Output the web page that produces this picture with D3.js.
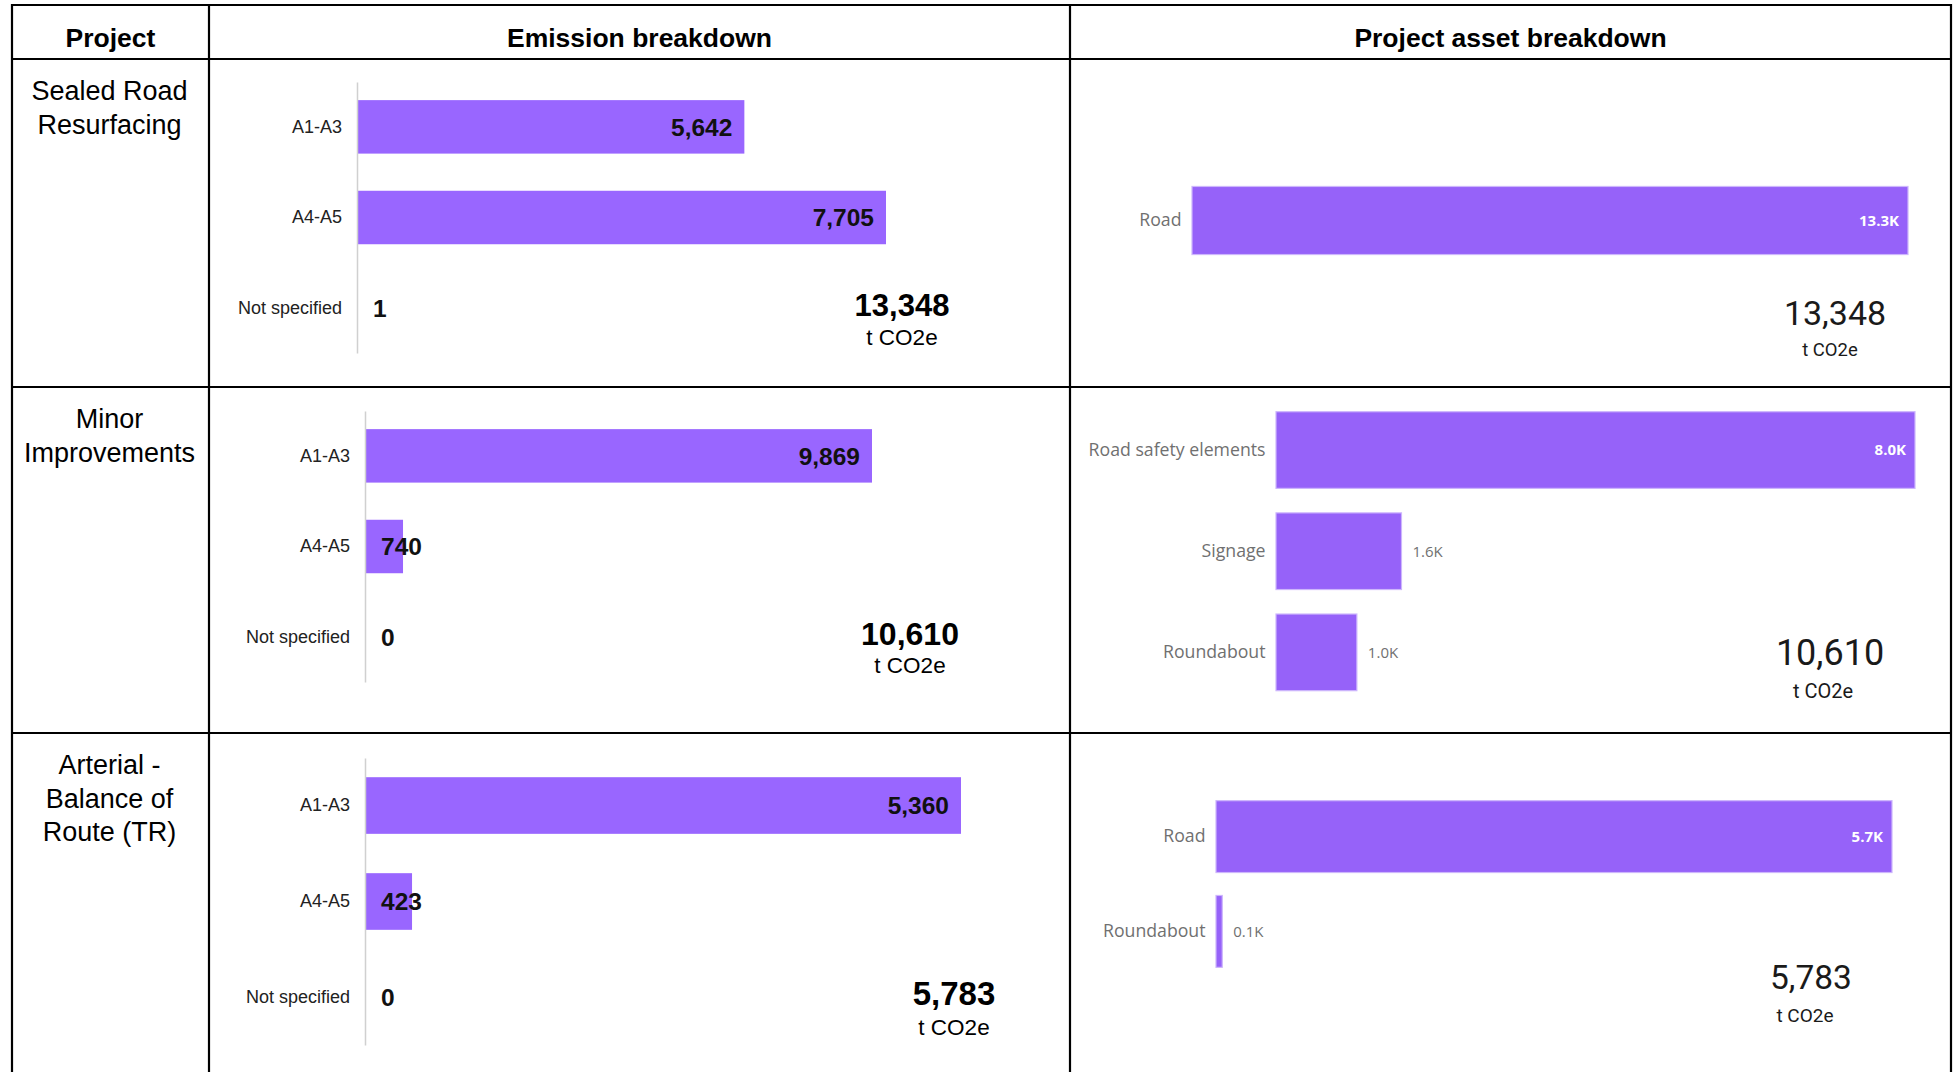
<!DOCTYPE html>
<html><head><meta charset="utf-8">
<script src="https://cdn.jsdelivr.net/npm/d3@7"></script>
<style>html,body{margin:0;padding:0;background:#fff;} svg{display:block}</style>
</head><body>
<svg id="chart" width="1955" height="1072"></svg>
<script>
// ---------- data ----------
const headers = ["Project", "Emission breakdown", "Project asset breakdown"];
const projectNames = [["Sealed Road", "Resurfacing"], ["Minor", "Improvements"], ["Arterial -", "Balance of", "Route (TR)"]];
const stages = ["A1-A3", "A4-A5", "Not specified"];
const sealedEmissions = [5642, 7705, 1];
const minorEmissions = [9869, 740, 0];
const arterialEmissions = [5360, 423, 0];
const projectTotals = [13348, 10610, 5783];
const totalUnit = "t CO2e";
const sealedAssets = ["Road"];
const sealedAssetValues = [13348];
const minorAssets = ["Road safety elements", "Signage", "Roundabout"];
const minorAssetValues = [8020, 1575, 1015];
const arterialAssets = ["Road", "Roundabout"];
const arterialAssetValues = [5730, 53];

// ---------- layout ----------
const FONT_ARIAL = "'Liberation Sans', Arial, sans-serif";
const FONT_PBI = "'Open Sans', 'Segoe UI', sans-serif";
const FONT_CARD = "Roboto, sans-serif";
const colX = [12, 209, 1070, 1951];
const rowY = [5, 59, 387, 733];
const emissionRows = [sealedEmissions, minorEmissions, arterialEmissions];
const assetRows = [[sealedAssets, sealedAssetValues], [minorAssets, minorAssetValues], [arterialAssets, arterialAssetValues]];
const emissionLayout = [
  {axisX: 357, maxEnd: 886, y0: 82, y1: 353, total: {x: 902, y: 316, size: 31, uy: 345, usize: 22.5}},
  {axisX: 365, maxEnd: 872, y0: 411, y1: 682, total: {x: 910, y: 645, size: 32, uy: 673, usize: 22.5}},
  {axisX: 365, maxEnd: 961, y0: 758, y1: 1045, total: {x: 954, y: 1005, size: 33, uy: 1035, usize: 22.5}}
];
const assetLayout = [
  {x0: 1192, maxEnd: 1908, y0: 175.6, y1: 265.4, total: {x: 1835, y: 325, size: 34, ux: 1830, uy: 356, usize: 18.5}},
  {x0: 1276, maxEnd: 1915, y0: 401.6, y1: 700.8, total: {x: 1830, y: 665, size: 36, ux: 1823, uy: 698, usize: 20}},
  {x0: 1216, maxEnd: 1892, y0: 791.2, y1: 976.8, total: {x: 1811, y: 989, size: 33.5, ux: 1805, uy: 1022, usize: 19}}
];

const svg = d3.select("#chart");
svg.append("rect").attr("width", 1955).attr("height", 1072).attr("fill", "#fff");

const fmtInt = d3.format(",");
const fmtK = v => d3.format(".1f")(v / 1000) + "K";

// ---------- emission charts ----------
emissionRows.forEach((vals, i) => {
  const L = emissionLayout[i];
  const g = svg.append("g");
  const y = d3.scaleBand().domain(stages).range([L.y0, L.y1]).paddingInner(0.41).paddingOuter(0.2);
  const x = d3.scaleLinear().domain([0, d3.max(vals)]).range([L.axisX, L.maxEnd]);
  const data = stages.map((s, k) => ({s, v: vals[k]}));
  g.selectAll("rect.bar").data(data).join("rect").attr("class", "bar")
    .attr("x", x(0)).attr("y", d => y(d.s))
    .attr("width", d => x(d.v) - x(0)).attr("height", y.bandwidth())
    .attr("fill", "#9966ff");
  const ax = d3.axisLeft(y).tickSize(0).tickPadding(15);
  const axG = g.append("g").attr("transform", `translate(${L.axisX},0)`).call(ax);
  axG.select(".domain").attr("stroke", "#d0d0d0").attr("stroke-width", 1.5);
  axG.selectAll("text").attr("font-family", FONT_ARIAL).attr("font-size", 18).attr("fill", "#222");
  g.selectAll("text.val").data(data).join("text").attr("class", "val")
    .attr("x", d => (x(d.v) - x(0) > 90) ? x(d.v) - 12 : x(0) + 16)
    .attr("text-anchor", d => (x(d.v) - x(0) > 90) ? "end" : "start")
    .attr("y", d => y(d.s) + y.bandwidth() / 2).attr("dy", "0.36em")
    .attr("font-family", FONT_ARIAL).attr("font-weight", "bold").attr("font-size", 24.5).attr("fill", "#111")
    .text(d => fmtInt(d.v));
  g.append("text").attr("x", L.total.x).attr("y", L.total.y).attr("text-anchor", "middle")
    .attr("font-family", FONT_ARIAL).attr("font-weight", "bold").attr("font-size", L.total.size).attr("fill", "#000")
    .text(fmtInt(projectTotals[i]));
  g.append("text").attr("x", L.total.x).attr("y", L.total.uy).attr("text-anchor", "middle")
    .attr("font-family", FONT_ARIAL).attr("font-size", L.total.usize).attr("fill", "#000")
    .text(totalUnit);
});

// ---------- asset charts ----------
assetRows.forEach(([cats, vals], i) => {
  const L = assetLayout[i];
  const g = svg.append("g");
  const y = d3.scaleBand().domain(cats).range([L.y0, L.y1]).paddingInner(0.242).paddingOuter(0.1);
  const x = d3.scaleLinear().domain([0, d3.max(vals)]).range([L.x0, L.maxEnd]);
  const data = cats.map((c, k) => ({c, v: vals[k]}));
  const inside = d => x(d.v) - x(0) > 200;
  g.selectAll("rect.bar").data(data).join("rect").attr("class", "bar")
    .attr("x", x(0)).attr("y", d => y(d.c))
    .attr("width", d => x(d.v) - x(0)).attr("height", y.bandwidth())
    .attr("fill", "#9662f9").attr("stroke", "#cdb6fc").attr("stroke-width", 1.2);
  const ax = d3.axisLeft(y).tickSize(0).tickPadding(10.5);
  const axG = g.append("g").attr("transform", `translate(${L.x0},0)`).call(ax);
  axG.select(".domain").remove();
  axG.selectAll("text").attr("font-family", FONT_PBI).attr("font-size", 17.7).attr("fill", "#707070");
  g.selectAll("text.val").data(data).join("text").attr("class", "val")
    .attr("x", d => inside(d) ? x(d.v) - 9 : x(d.v) + 11)
    .attr("text-anchor", d => inside(d) ? "end" : "start")
    .attr("y", d => y(d.c) + y.bandwidth() / 2).attr("dy", "0.36em")
    .attr("font-family", FONT_PBI).attr("font-size", 15)
    .attr("font-weight", d => inside(d) ? 700 : 500)
    .attr("fill", d => inside(d) ? "#fff" : "#707070")
    .text(d => fmtK(d.v));
  g.append("text").attr("x", L.total.x).attr("y", L.total.y).attr("text-anchor", "middle")
    .attr("font-family", FONT_CARD).attr("font-size", L.total.size).attr("fill", "#1a1a1a")
    .text(fmtInt(projectTotals[i]));
  g.append("text").attr("x", L.total.ux).attr("y", L.total.uy).attr("text-anchor", "middle")
    .attr("font-family", FONT_CARD).attr("font-size", L.total.usize).attr("fill", "#1a1a1a")
    .text(totalUnit);
});

// ---------- table text ----------
headers.forEach((h, k) => {
  svg.append("text").attr("x", (colX[k] + colX[k + 1]) / 2).attr("y", 46.5).attr("text-anchor", "middle")
    .attr("font-family", FONT_ARIAL).attr("font-weight", "bold").attr("font-size", 26.5).attr("fill", "#000")
    .text(h);
});
projectNames.forEach((lines, r) => {
  lines.forEach((ln, j) => {
    svg.append("text").attr("x", (colX[0] + colX[1]) / 2 - 1).attr("y", rowY[r + 1] + 41 + j * 33.7)
      .attr("text-anchor", "middle").attr("font-family", FONT_ARIAL).attr("font-size", 27).attr("fill", "#000")
      .text(ln);
  });
});

// ---------- table grid ----------
const grid = svg.append("g").attr("stroke", "#000").attr("stroke-width", 2.2);
colX.forEach(cx => grid.append("line").attr("x1", cx).attr("x2", cx).attr("y1", rowY[0] - 1).attr("y2", 1072));
rowY.forEach(ry => grid.append("line").attr("x1", colX[0] - 1).attr("x2", colX[3] + 1).attr("y1", ry).attr("y2", ry));
</script>
</body></html>
